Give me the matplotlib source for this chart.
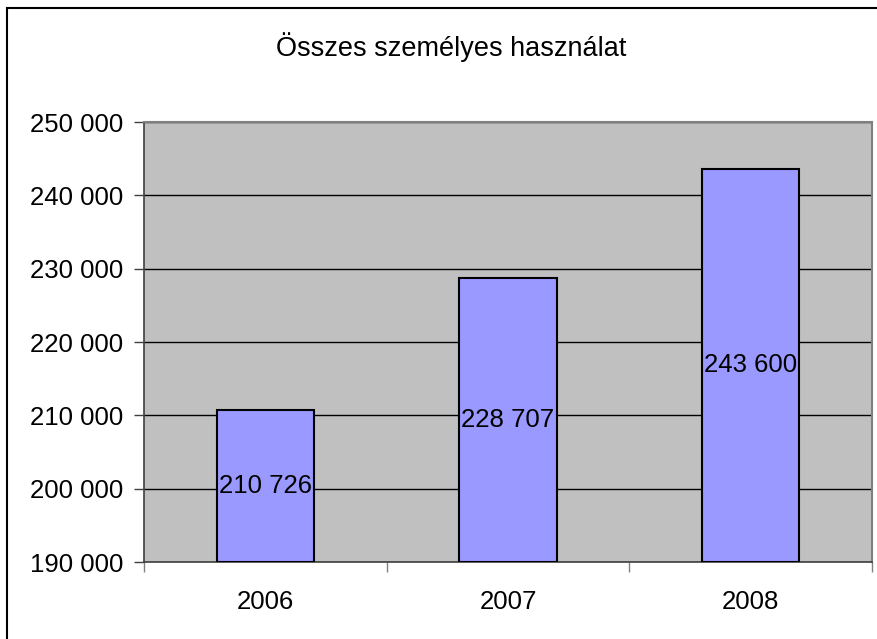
import matplotlib
matplotlib.use("Agg")
import matplotlib.pyplot as plt
from matplotlib.patches import Rectangle
from matplotlib.ticker import FuncFormatter

years = ["2006", "2007", "2008"]
values = [210726, 228707, 243600]
title = "Összes személyes használat"
ymin, ymax, ystep = 190000, 250000, 10000

plt.rcParams['font.family'] = ['Liberation Sans', 'DejaVu Sans']

W, H = 878, 639
fig = plt.figure(figsize=(W/100, H/100), dpi=100)
fig.patch.set_facecolor("white")

# outer chart border
fig.patches.append(Rectangle((7/W, -0.05), 1.2, 1 - 8/H + 0.05, transform=fig.transFigure,
                             fill=False, edgecolor="black", linewidth=1.5))

ax = fig.add_axes([144/W, 1 - 562/H, (872-144)/W, (562-122)/H])
ax.set_facecolor("#C0C0C0")
x = list(range(len(years)))
bars = ax.bar(x, [v - ymin for v in values], bottom=ymin, width=0.4,
              color="#9999FF", edgecolor="black", linewidth=1.5, zorder=3)
ax.set_xlim(-0.5, len(years) - 0.5)
ax.set_ylim(ymin, ymax)
ax.set_yticks(range(ymin, ymax + 1, ystep))
ax.yaxis.set_major_formatter(FuncFormatter(lambda v, p: f"{int(v):,}".replace(",", " ")))
ax.grid(axis="y", color="black", linewidth=1, zorder=1)
ax.set_axisbelow(True)

ax.set_xticks(x)
ax.set_xticklabels(years)
ax.set_xticks([i - 0.5 for i in range(len(years) + 1)], minor=True)
ax.tick_params(axis="x", which="major", length=0, pad=20, labelsize=18.5)
ax.tick_params(axis="x", which="minor", length=7, width=1, color="#808080", direction="out")
ax.tick_params(axis="y", length=7, width=1, color="#404040", direction="out", pad=8, labelsize=18.5)

for side in ["top", "right"]:
    ax.spines[side].set_color("#808080")
    ax.spines[side].set_linewidth(1.5)
for side in ["left", "bottom"]:
    ax.spines[side].set_color("#404040")
    ax.spines[side].set_linewidth(1.2)

for xi, v in zip(x, values):
    ax.text(xi, (ymin + v) / 2, f"{v:,}".replace(",", " "), ha="center", va="center",
            fontsize=18.5, color="black", zorder=4)

fig.text(451/W, 1 - 47/H, title, ha="center", va="center", fontsize=19.5)

fig.savefig("out.png", dpi=100)
